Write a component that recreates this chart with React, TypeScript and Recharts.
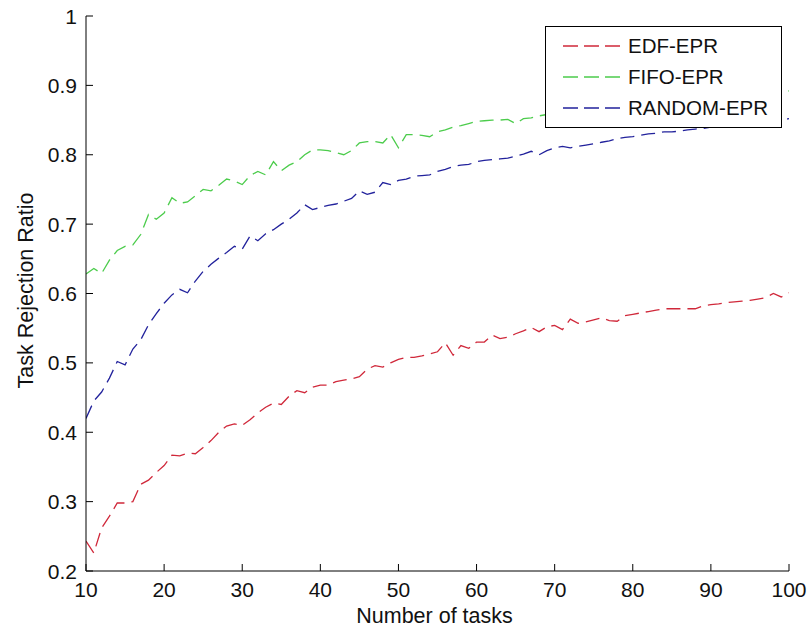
import React from 'react';
import { LineChart, Line, XAxis, YAxis, Legend, Label } from 'recharts';

const taskCounts = [
  10, 11, 12, 13, 14, 15, 16, 17, 18, 19, 20, 21, 22, 23, 24, 25, 26, 27, 28, 29,
  30, 31, 32, 33, 34, 35, 36, 37, 38, 39, 40, 41, 42, 43, 44, 45, 46, 47, 48, 49,
  50, 51, 52, 53, 54, 55, 56, 57, 58, 59, 60, 61, 62, 63, 64, 65, 66, 67, 68, 69,
  70, 71, 72, 73, 74, 75, 76, 77, 78, 79, 80, 81, 82, 83, 84, 85, 86, 87, 88, 89,
  90, 91, 92, 93, 94, 95, 96, 97, 98, 99, 100,
];

const edfEpr = [
  0.243, 0.226, 0.262, 0.279, 0.298, 0.298, 0.300, 0.325, 0.331, 0.342,
  0.352, 0.367, 0.366, 0.370, 0.369, 0.378, 0.388, 0.400, 0.409, 0.412,
  0.410, 0.418, 0.428, 0.436, 0.442, 0.440, 0.452, 0.460, 0.457, 0.465,
  0.468, 0.468, 0.473, 0.475, 0.477, 0.480, 0.491, 0.496, 0.494, 0.500,
  0.505, 0.508, 0.508, 0.510, 0.513, 0.516, 0.529, 0.511, 0.525, 0.521,
  0.530, 0.530, 0.540, 0.535, 0.537, 0.542, 0.546, 0.551, 0.545, 0.552,
  0.554, 0.548, 0.563, 0.557, 0.559, 0.562, 0.565, 0.561, 0.560, 0.568,
  0.570, 0.572, 0.574, 0.576, 0.578, 0.578, 0.578, 0.578, 0.578, 0.582,
  0.584, 0.585, 0.587, 0.588, 0.589, 0.590, 0.592, 0.594, 0.600, 0.595,
  0.601,
];

const fifoEpr = [
  0.628, 0.636, 0.629, 0.648, 0.662, 0.668, 0.670, 0.685, 0.714, 0.707,
  0.716, 0.738, 0.730, 0.732, 0.741, 0.750, 0.748, 0.756, 0.765, 0.762,
  0.757, 0.770, 0.776, 0.771, 0.790, 0.777, 0.785, 0.790, 0.800, 0.807,
  0.807, 0.806, 0.803, 0.800, 0.806, 0.817, 0.819, 0.819, 0.817, 0.829,
  0.810, 0.829, 0.829, 0.828, 0.826, 0.833, 0.836, 0.840, 0.842, 0.845,
  0.848, 0.849, 0.850, 0.850, 0.851, 0.845, 0.852, 0.853, 0.856, 0.858,
  0.860, 0.859, 0.862, 0.863, 0.862, 0.865, 0.866, 0.865, 0.868, 0.869,
  0.870, 0.869, 0.872, 0.873, 0.872, 0.875, 0.876, 0.875, 0.877, 0.878,
  0.879, 0.878, 0.880, 0.881, 0.880, 0.882, 0.883, 0.882, 0.884, 0.888,
  0.892,
];

const randomEpr = [
  0.420, 0.445, 0.458, 0.478, 0.502, 0.497, 0.520, 0.533, 0.555, 0.571,
  0.586, 0.598, 0.606, 0.601, 0.618, 0.632, 0.642, 0.651, 0.659, 0.668,
  0.664, 0.683, 0.676, 0.686, 0.692, 0.700, 0.707, 0.716, 0.728, 0.721,
  0.724, 0.727, 0.729, 0.733, 0.737, 0.748, 0.743, 0.746, 0.760, 0.757,
  0.763, 0.765, 0.769, 0.770, 0.771, 0.776, 0.779, 0.783, 0.785, 0.786,
  0.790, 0.792, 0.793, 0.794, 0.795, 0.798, 0.801, 0.805, 0.800, 0.806,
  0.810, 0.812, 0.810, 0.812, 0.814, 0.816, 0.818, 0.820, 0.823, 0.825,
  0.826, 0.828, 0.830, 0.831, 0.833, 0.833, 0.834, 0.836, 0.837, 0.838,
  0.840, 0.841, 0.842, 0.843, 0.844, 0.846, 0.847, 0.848, 0.849, 0.850,
  0.852,
];

const xTicks = [10, 20, 30, 40, 50, 60, 70, 80, 90, 100];
const yTicks = [0.2, 0.3, 0.4, 0.5, 0.6, 0.7, 0.8, 0.9, 1];

const seriesNames = ['EDF-EPR', 'FIFO-EPR', 'RANDOM-EPR'];
const seriesColors = ['#d0283a', '#4ccc4c', '#22229c'];

const data = taskCounts.map((x, i) => ({
  x,
  edf: edfEpr[i],
  fifo: fifoEpr[i],
  random: randomEpr[i],
}));

const FONT = '"Liberation Sans", Arial, Helvetica, sans-serif';
const TICK_FS = 21;
const LABEL_FS = 21.5;
const LEGEND_FS = 20.5;
const TICK_LEN = 7;
const DASH = '14 7';

const fmtY = (v: number) => String(Math.round(v * 10) / 10);

const BottomTick = (props: any) => {
  const { x, y, payload } = props;
  return (
    <g>
      <line x1={x} x2={x} y1={y} y2={y - TICK_LEN} stroke="#000" strokeWidth={1} />
      <text x={x} y={y + 26} textAnchor="middle" fontSize={TICK_FS} fontFamily={FONT} fill="#111">
        {payload.value}
      </text>
    </g>
  );
};

const TopTick = (props: any) => {
  const { x, y } = props;
  return <line x1={x} x2={x} y1={y} y2={y + TICK_LEN} stroke="#000" strokeWidth={1} />;
};

const LeftTick = (props: any) => {
  const { x, y, payload } = props;
  return (
    <g>
      <line x1={x} x2={x + TICK_LEN} y1={y} y2={y} stroke="#000" strokeWidth={1} />
      <text x={x - 9} y={y + 7.5} textAnchor="end" fontSize={TICK_FS} fontFamily={FONT} fill="#111">
        {fmtY(payload.value)}
      </text>
    </g>
  );
};

const RightTick = (props: any) => {
  const { x, y } = props;
  return <line x1={x} x2={x - TICK_LEN} y1={y} y2={y} stroke="#000" strokeWidth={1} />;
};

const XLabel = (props: any) => {
  const vb = props.viewBox;
  return (
    <text x={vb.x + vb.width / 2 - 3} y={vb.y + 52} textAnchor="middle" fontSize={LABEL_FS} fontFamily={FONT} fill="#111">
      Number of tasks
    </text>
  );
};

const YLabel = (props: any) => {
  const vb = props.viewBox;
  const cx = 33;
  const cy = vb.y + vb.height / 2 - 3;
  return (
    <text
      x={cx}
      y={cy}
      textAnchor="middle"
      fontSize={LABEL_FS}
      fontFamily={FONT}
      fill="#111"
      transform={`rotate(-90, ${cx}, ${cy})`}
    >
      Task Rejection Ratio
    </text>
  );
};

const LegendBox = (props: any) => {
  const payload = props.payload || [];
  return (
    <div
      style={{
        width: 235,
        height: 97,
        border: '1px solid #000',
        background: '#fff',
        paddingTop: 3,
        boxSizing: 'content-box',
        fontFamily: FONT,
        fontSize: LEGEND_FS,
        color: '#111',
      }}
    >
      {payload.map((entry: any, i: number) => (
        <div key={i} style={{ display: 'flex', alignItems: 'center', height: 31, paddingLeft: 17 }}>
          <svg width={60} height={10} style={{ display: 'block' }}>
            <line x1={0} x2={60} y1={5} y2={5} stroke={entry.color} strokeWidth={1.3} strokeDasharray="15 6" />
          </svg>
          <span style={{ marginLeft: 5, lineHeight: '31px', whiteSpace: 'nowrap' }}>{entry.value}</span>
        </div>
      ))}
    </div>
  );
};

export default function App() {
  return (
    <div style={{ position: 'absolute', left: 0, top: 0, width: 811, height: 635, background: '#fff' }}>
      <LineChart
        width={811}
        height={635}
        data={data}
        margin={{ top: 16, right: 22, bottom: 14, left: 16 }}
      >
        <XAxis
          xAxisId="bottom"
          dataKey="x"
          type="number"
          domain={[10, 100]}
          ticks={xTicks}
          allowDataOverflow
          height={50}
          tickSize={0}
          tickMargin={0}
          tickLine={false}
          tick={<BottomTick />}
          axisLine={{ stroke: '#000', strokeWidth: 1 }}
          interval={0}
        >
          <Label content={<XLabel />} />
        </XAxis>
        <XAxis
          xAxisId="top"
          orientation="top"
          dataKey="x"
          type="number"
          domain={[10, 100]}
          ticks={xTicks}
          allowDataOverflow
          height={0}
          tickSize={0}
          tickMargin={0}
          tickLine={false}
          tick={<TopTick />}
          axisLine={{ stroke: '#000', strokeWidth: 1 }}
          interval={0}
        />
        <YAxis
          yAxisId="left"
          type="number"
          domain={[0.2, 1]}
          ticks={yTicks}
          allowDataOverflow
          width={70}
          tickSize={0}
          tickMargin={0}
          tickLine={false}
          tick={<LeftTick />}
          axisLine={{ stroke: '#000', strokeWidth: 1 }}
          interval={0}
        >
          <Label content={<YLabel />} />
        </YAxis>
        <YAxis
          yAxisId="right"
          orientation="right"
          type="number"
          domain={[0.2, 1]}
          ticks={yTicks}
          allowDataOverflow
          width={0}
          tickSize={0}
          tickMargin={0}
          tickLine={false}
          tick={<RightTick />}
          axisLine={{ stroke: '#000', strokeWidth: 1 }}
          interval={0}
        />
        <Line
          xAxisId="bottom"
          yAxisId="left"
          type="linear"
          dataKey="edf"
          name={seriesNames[0]}
          stroke={seriesColors[0]}
          strokeWidth={1.3}
          strokeDasharray={DASH}
          dot={false}
          isAnimationActive={false}
        />
        <Line
          xAxisId="bottom"
          yAxisId="left"
          type="linear"
          dataKey="fifo"
          name={seriesNames[1]}
          stroke={seriesColors[1]}
          strokeWidth={1.3}
          strokeDasharray={DASH}
          dot={false}
          isAnimationActive={false}
        />
        <Line
          xAxisId="bottom"
          yAxisId="left"
          type="linear"
          dataKey="random"
          name={seriesNames[2]}
          stroke={seriesColors[2]}
          strokeWidth={1.3}
          strokeDasharray={DASH}
          dot={false}
          isAnimationActive={false}
        />
        <Legend
          layout="horizontal"
          align="center"
          verticalAlign="middle"
          content={<LegendBox />}
          wrapperStyle={{ left: 545, top: 26, width: 237, height: 101 }}
        />
      </LineChart>
    </div>
  );
}
